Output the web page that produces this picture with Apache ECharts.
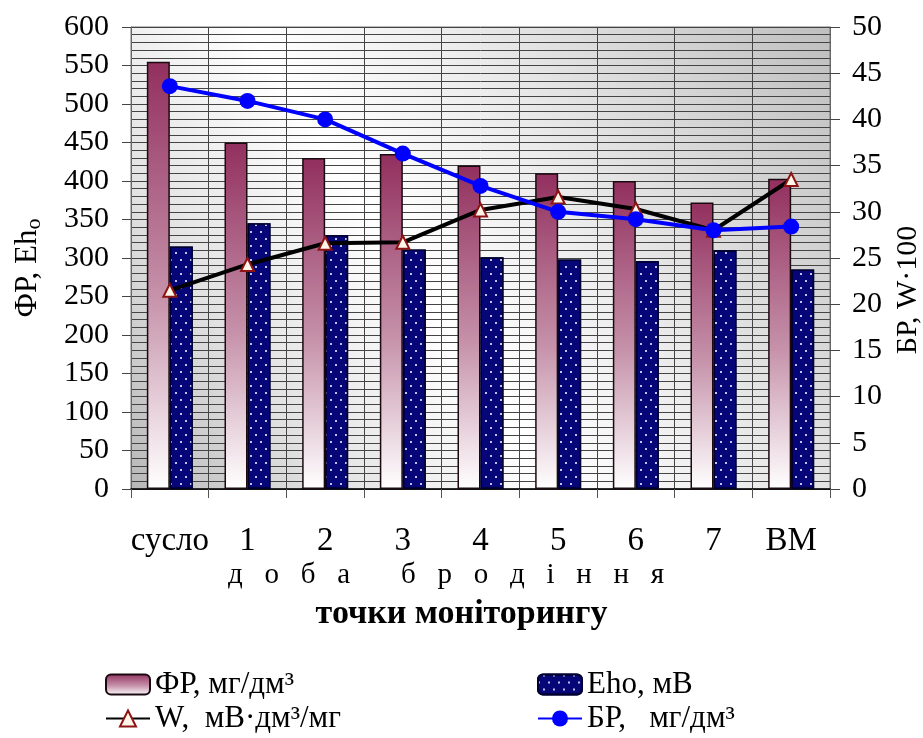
<!DOCTYPE html>
<html>
<head>
<meta charset="utf-8">
<script src="https://cdn.jsdelivr.net/npm/echarts@6/dist/echarts.min.js"></script>
<style>
  html, body { margin: 0; padding: 0; background: #ffffff; }
  #chart { width: 923px; height: 738px; }
</style>
</head>
<body>
<div id="chart"></div>
<script>
// Monitoring points of the fermentation
const categories = ['сусло', '1', '2', '3', '4', '5', '6', '7', 'ВМ'];
// ФР, mg/dm3 (left axis)
const frValues = [555, 450, 430, 435, 420, 410, 400, 372, 403];
// Eho, mV (left axis)
const ehoValues = [315, 345, 330, 311, 301, 298, 296, 310, 285];
// W, mV·dm3/mg ×100 (right axis)
const wValues = [21.5, 24.3, 26.6, 26.7, 30.2, 31.6, 30.3, 28.0, 33.5];
// БР, mg/dm3 (right axis)
const brValues = [43.6, 42.0, 40.0, 36.3, 32.8, 30.0, 29.2, 28.0, 28.4];

const seriesNames = {
  fr: 'ФР, мг/дм³',
  eho: 'Eho, мВ',
  w: 'W,  мВ·дм³/мг',
  br: 'БР,   мг/дм³'
};

const serif = "'Liberation Serif', 'Times New Roman', serif";

const chart = echarts.init(document.getElementById('chart'), null, { renderer: 'canvas' });

const legendText = { fontFamily: serif, fontSize: 31, color: '#000' };

const option = {
  animation: false,
  backgroundColor: '#ffffff',
  textStyle: { fontFamily: serif, color: '#000' },
  grid: {
    left: 131, right: 93, top: 27, bottom: 249,
    outerBoundsMode: 'none',
    show: true,
    borderColor: '#777',
    borderWidth: 1,
    backgroundColor: {
      type: 'linear', x: 0, y: 1, x2: 1, y2: 0,
      colorStops: [
        { offset: 0, color: '#b8b8b8' },
        { offset: 0.2, color: '#e2e2e2' },
        { offset: 0.42, color: '#ffffff' },
        { offset: 0.6, color: '#eeeeee' },
        { offset: 1, color: '#bfbfbf' }
      ]
    }
  },
  legend: [
    {
      orient: 'vertical', left: 100, top: 664, itemGap: 3, height: 74,
      itemWidth: 44, itemHeight: 20,
      textStyle: legendText,
      data: [seriesNames.fr, seriesNames.w]
    },
    {
      orient: 'vertical', left: 532, top: 664, itemGap: 3, height: 74,
      itemWidth: 44, itemHeight: 20,
      textStyle: legendText,
      data: [seriesNames.eho, seriesNames.br]
    }
  ],
  xAxis: {
    type: 'category',
    data: categories,
    boundaryGap: true,
    axisLine: { show: true, lineStyle: { color: '#000', width: 1.5 } },
    axisTick: { show: true, length: 9, lineStyle: { color: '#555' } },
    axisLabel: { interval: 0, fontFamily: serif, fontSize: 33, color: '#000', margin: 36 },
    splitLine: { show: true, interval: 0, lineStyle: { color: '#444', width: 1 } }
  },
  yAxis: [
    {
      type: 'value', min: 0, max: 600, interval: 50,
      position: 'left',
      name: '{a|ФР, Eh}{s|o}',
      nameLocation: 'middle', nameRotate: 90, nameGap: 86,
      nameTextStyle: {
        padding: [0, 20, 0, 0],
        rich: {
          a: { fontFamily: serif, fontSize: 31, color: '#000' },
          s: { fontFamily: serif, fontSize: 22, color: '#000', padding: [12, 0, 0, 0] }
        }
      },
      axisLine: { show: true, lineStyle: { color: '#666' } },
      axisTick: { show: true, length: 9, lineStyle: { color: '#444' } },
      axisLabel: { fontFamily: serif, fontSize: 30, color: '#000', margin: 22 },
      splitLine: { show: true, lineStyle: { color: '#444', width: 1 } },
      minorTick: { show: false, splitNumber: 5 },
      minorSplitLine: { show: true, lineStyle: { color: '#444', width: 1 } }
    },
    {
      type: 'value', min: 0, max: 50, interval: 5,
      position: 'right',
      name: 'БР, W·100',
      nameLocation: 'middle', nameRotate: 90, nameGap: 58,
      nameTextStyle: { fontFamily: serif, fontSize: 30, color: '#000', padding: [0, 64, 0, 0] },
      axisLine: { show: true, lineStyle: { color: '#666' } },
      axisTick: { show: true, length: 10, lineStyle: { color: '#444' } },
      axisLabel: { fontFamily: serif, fontSize: 30, color: '#000', margin: 22 },
      splitLine: { show: false }
    }
  ],
  series: [
    {
      name: seriesNames.fr,
      type: 'bar',
      yAxisIndex: 0,
      data: frValues,
      barWidth: 23,
      barGap: '0%',
      itemStyle: {
        borderColor: '#1a0a10',
        borderWidth: 1.5,
        color: {
          type: 'linear', x: 0, y: 0, x2: 0, y2: 1,
          colorStops: [
            { offset: 0, color: '#922f5e' },
            { offset: 0.55, color: '#c692aa' },
            { offset: 1, color: '#ffffff' }
          ]
        }
      }
    },
    {
      name: seriesNames.eho,
      type: 'bar',
      yAxisIndex: 0,
      data: ehoValues,
      barWidth: 23,
      barGap: '0%',
      itemStyle: {
        color: '#060678',
        borderColor: '#000030',
        borderWidth: 1.5,
        decal: {
          symbol: 'rect',
          symbolSize: 1,
          color: 'rgba(225,225,255,0.85)',
          dashArrayX: [[2, 8], [0, 5, 2, 3]],
          dashArrayY: [2, 5],
          rotation: 0
        }
      }
    },
    {
      name: seriesNames.w,
      type: 'line',
      yAxisIndex: 1,
      data: wValues,
      symbol: 'triangle',
      symbolSize: 13,
      lineStyle: { color: '#000000', width: 4 },
      itemStyle: { color: '#fff6ea', borderColor: '#8e1414', borderWidth: 2 },
      z: 3
    },
    {
      name: seriesNames.br,
      type: 'line',
      yAxisIndex: 1,
      data: brValues,
      symbol: 'circle',
      symbolSize: 16,
      lineStyle: { color: '#0000ff', width: 4 },
      itemStyle: { color: '#0000ff' },
      z: 4
    }
  ],
  graphic: [
    {
      type: 'text',
      left: 228, top: 561,
      style: {
        text: 'д   о   б   а       б   р   о   д   і   н   н   я',
        font: '29px ' + serif,
        fill: '#000'
      }
    },
    {
      type: 'text',
      left: 'center', top: 597,
      style: {
        text: 'точки моніторингу',
        font: 'bold 34px ' + serif,
        fill: '#000'
      }
    }
  ]
};

chart.setOption(option);
</script>
</body>
</html>
